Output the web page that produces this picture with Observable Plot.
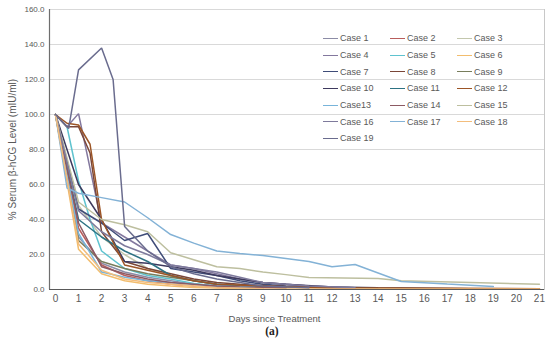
<!DOCTYPE html>
<html>
<head>
<meta charset="utf-8">
<script src="https://cdn.jsdelivr.net/npm/d3@7"></script>
<script src="https://cdn.jsdelivr.net/npm/@observablehq/plot@0.6"></script>
<style>
  body { margin: 0; background: #fff; }
  #wrap { position: relative; width: 550px; height: 347px; font-family: "Liberation Sans", Arial, sans-serif; }
  #legend { position: absolute; left: 323px; top: 30px; display: grid; grid-template-columns: 67px 67px 67px; grid-auto-rows: 16.7px; }
  .item { display: flex; align-items: center; font-size: 9px; color: #595959; }
  .sw { width: 15px; height: 0; border-top: 1.6px solid; margin-right: 2px; }
  #xtitle { position: absolute; left: 0; width: 549px; top: 313px; text-align: center; font-size: 9.5px; color: #595959; }
  #sub { position: absolute; left: 0; width: 544px; top: 325px; text-align: center; font-size: 11.5px; font-weight: bold; font-family: "Liberation Serif", "DejaVu Serif", serif; color: #222; }
</style>
</head>
<body>
<div id="wrap"></div>
<script>
// ---- data ----
const caseNames = ["Case 1","Case 2","Case 3","Case 4","Case 5","Case 6","Case 7","Case 8","Case 9","Case 10",
  "Case 11","Case 12","Case13","Case 14","Case 15","Case 16","Case 17","Case 18","Case 19"];

const case1Days = [0,1,2,3,4,5,6,7,8,10];
const case1Vals = [100,30,15,10,7,5,3,2,1.5,1];
const case2Days = [0,1,2,3,4,5,6,7,9];
const case2Vals = [100,35,14,8,5,3,2,1.2,0.5];
const case3Days = [0,1,2,3,4,5,6,7,8,10,14];
const case3Vals = [100,48,30,20,12,8,5,3,2,1,0.5];
const case4Days = [0,0.5,1,2,3,4,5,6,7,8,9,11,13];
const case4Vals = [100,93,100.5,38,30,22,14,12,9,6,4,2,1];
const case5Days = [0,0.5,1,1.5,2,3,4,5,6,7,9];
const case5Vals = [100,93,62,40,22,12,8,6,3.5,2,1];
const case6Days = [0,1,2,3,4,5,6,7,9];
const case6Vals = [100,23,9,5,3,2,1.2,0.8,0.3];
const case7Days = [0,1,2,3,4,5,6,7,8,9,10,12];
const case7Vals = [100,46,38,28,32,12,10,8,5,3,2,1];
const case8Days = [0,0.5,1,1.5,2,3,4,5,6,7,8,10,13];
const case8Vals = [100,93,93,78,33,16,12,9,6,4,3,1.5,0.5];
const case9Days = [0,1,2,3,4,5,6,7,8,10];
const case9Vals = [100,28,16,12,9,7,5,3,2,1];
const case10Days = [0,1,2,3,4,5,6,7,8,9,10,12,14,18];
const case10Vals = [100,60,40,16,15,13,11,8,6,4,3,1.5,1,0.5];
const case11Days = [0,1,2,3,4,5,6,7,8,10];
const case11Vals = [100,40,30,22,16,8,5,3,2,1];
const case12Days = [0,0.5,1,1.5,2,3,4,5,6,7,9,12,21];
const case12Vals = [100,95,94,83,40,14,11,8,5,3,2,1,0.5];
const case13Days = [0,1,2,3,4,5,6,7,9];
const case13Vals = [100,32,10,7,5,4,3,2,1];
const case14Days = [0,1,2,3,4,5,6,7,8,10];
const case14Vals = [100,38,13,9,6,4,3,2,1.5,1];
const case15Days = [0,1,2,3,4,5,6,7,8,9,10,11,14,15,21];
const case15Vals = [100,50,40,37,33,21,17,13,12,10,8.5,6.8,6.3,5,3];
const case16Days = [0,1,2,3,4,5,6,7,8,9,10,11,13];
const case16Vals = [100,45,33,25,20,14,12,10,7,4,3,2,1];
const case17Days = [0,0.5,1,2,3,4,5,6,7,8,9,10,11,12,13,15,16,17,18,19];
const case17Vals = [100,58,55,52.5,50,41,31.4,26.5,22,20.6,19.4,17.7,16,13,14.3,4.6,3.9,3.1,2.4,1.7];
const case18Days = [0,1,2,3,4,5,6,7,9,21];
const case18Vals = [100,26,11,6,4,3,2,1,0.5,0.3];
const case19Days = [0,0.57,1,2,2.5,3,4,5,6,7,8,9,11];
const case19Vals = [100,92,125.5,138,120,36,22,13,9,6,4,2,1];

const yTicks = [0,20,40,60,80,100,120,140,160];
const xTicks = d3.range(0, 22);

// ---- styles ----
const palette = ["#8c8ca6","#b85d5c","#c3c7ad","#83789e","#5fc3cf","#f2bd6e","#3f4c78","#7a4638","#787d5c","#3e3a5e",
  "#2d7283","#9c5526","#78b4da","#8c5a63","#bdbf9f","#7e7a9c","#83b2d6","#f3bd7c","#6a6c8e"];

const allDays = [case1Days,case2Days,case3Days,case4Days,case5Days,case6Days,case7Days,case8Days,case9Days,case10Days,
  case11Days,case12Days,case13Days,case14Days,case15Days,case16Days,case17Days,case18Days,case19Days];
const allVals = [case1Vals,case2Vals,case3Vals,case4Vals,case5Vals,case6Vals,case7Vals,case8Vals,case9Vals,case10Vals,
  case11Vals,case12Vals,case13Vals,case14Vals,case15Vals,case16Vals,case17Vals,case18Vals,case19Vals];

const rows = [];
caseNames.forEach((c, i) => allDays[i].forEach((d, j) => rows.push({case: c, day: d, value: allVals[i][j]})));

const chart = Plot.plot({
  width: 550,
  height: 305,
  marginLeft: 49,
  marginRight: 6,
  marginTop: 9,
  marginBottom: 16,
  style: {fontFamily: '"Liberation Sans", Arial, sans-serif', color: "#595959", background: "#fff"},
  x: {domain: [-0.26, 21.22], label: null},
  y: {domain: [0, 160]},
  color: {domain: caseNames, range: palette},
  marks: [
    Plot.gridY(yTicks, {stroke: "#d9d9d9", strokeOpacity: 1}),
    Plot.frame({anchor: "right", stroke: "#c8c8c8"}),
    Plot.line(rows, {x: "day", y: "value", z: "case", stroke: "case", strokeWidth: 1.5, strokeLinejoin: "miter"}),
    Plot.ruleX([-0.26], {stroke: "#6e6e6e", strokeWidth: 1.2}),
    Plot.ruleY([0], {stroke: "#595959", strokeWidth: 1.2}),
    Plot.axisX({ticks: xTicks, tickSize: 0, tickPadding: 5, fontSize: 10, label: null}),
    Plot.axisY({ticks: yTicks, tickSize: 0, tickPadding: 5, fontSize: 8, tickFormat: d3.format(".1f"),
      label: "% Serum β-hCG Level (mIU/ml)", labelAnchor: "center", labelArrow: "none", labelOffset: 41})
  ]
});
chart.querySelectorAll("[aria-label='y-axis label']").forEach(el => el.setAttribute("font-size", "10"));

const wrap = document.getElementById("wrap");
wrap.appendChild(chart);

const legend = document.createElement("div");
legend.id = "legend";
caseNames.forEach((c, i) => {
  const it = document.createElement("div");
  it.className = "item";
  it.innerHTML = `<span class="sw" style="border-color:${palette[i]}"></span><span>${c}</span>`;
  legend.appendChild(it);
});
wrap.appendChild(legend);

const xt = document.createElement("div");
xt.id = "xtitle";
xt.textContent = "Days since Treatment";
wrap.appendChild(xt);

const sub = document.createElement("div");
sub.id = "sub";
sub.textContent = "(a)";
wrap.appendChild(sub);
</script>
</body>
</html>
